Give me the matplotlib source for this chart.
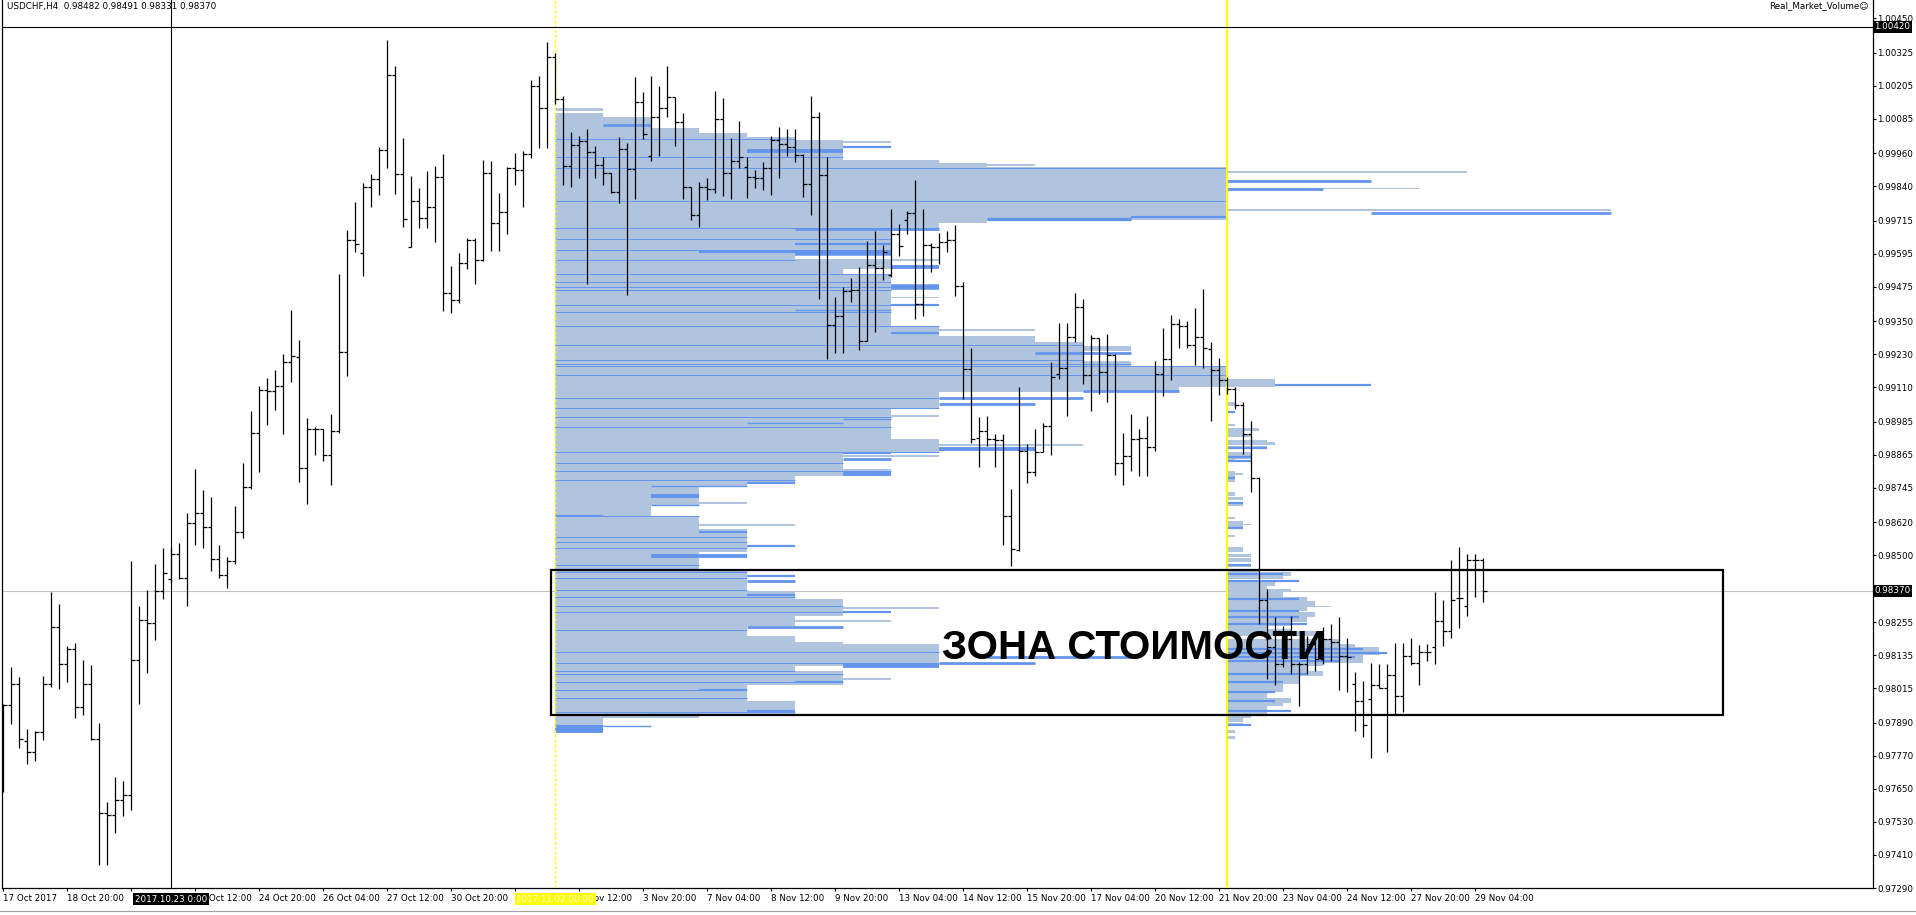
import matplotlib
matplotlib.use("Agg")
import matplotlib.pyplot as plt
import numpy as np

# ---------------- OHLC (USDCHF H4, bar index 0 = 17 Oct 2017 12:00) ----------------
opens = [0.97821,0.97956,0.98030,0.97825,0.97785,0.97857,0.98030,0.98239,0.98104,0.98159,
         0.97946,0.98030,0.97831,0.97562,0.97556,0.97608,0.97628,0.98119,0.98263,0.98253,
         0.98368,0.98412,0.98502,0.98418,0.98617,0.98651,0.98603,0.98484,0.98426,0.98478,
         0.98583,0.98746,0.98945,0.99101,0.99095,0.99113,0.99202,0.99221,0.98815,0.98958,
         0.98958,0.98865,0.98951,0.99239,0.99645,0.99596,0.99839,0.99867,0.99971,1.00244,
         0.99883,0.99620,0.99786,0.99725,0.99763,0.99874,0.99453,0.99425,0.99561,0.99645,
         0.99572,0.99887,0.99707,0.99746,0.99906,0.99899,0.99957,1.00203,1.00123,1.00311,
         1.00156,0.99912,0.99990,1.00003,0.99965,0.99918,0.99888,0.99819,0.99975,0.99903,
         1.00145,0.99951,1.00093,1.00124,1.00163,1.00073,0.99837,0.99734,0.99837,0.99831,
         1.00084,0.99890,0.99932,0.99909,0.99873,0.99869,0.99906,1.00009,0.99994,0.99982,
         0.99954,0.99849,1.00093,0.99882,0.99337,0.99367,0.99458,0.99462,0.99277,0.99555,
         0.99543,0.99519,0.99667,0.99718,0.99742,0.99413,0.99627,0.99621,0.99636,0.99646,
         0.99476,0.99176,0.98925,0.98950,0.98921,0.98918,0.98642,0.98519,0.98878,0.98801,
         0.98874,0.98968,0.99157,0.99179,0.99291,0.99403,0.99153,0.99287,0.99164,0.99226,
         0.98834,0.98860,0.98921,0.98925,0.98892,0.99157,0.99211,0.99338,0.99331,0.99262,
         0.99291,0.99247,0.99171,0.99135,0.99102,0.99044,0.98939,0.98780,0.98337,0.98167,
         0.98105,0.98196,0.98105,0.98105,0.98178,0.98123,0.98196,0.98185,0.98134,0.98033,
         0.97971,0.97978,0.98026,0.98015,0.98065,0.97986,0.98134,0.98109,0.98149,0.98167,
         0.98261,0.98225,0.98345,0.98316,0.98482,0.98482]
highs = [0.97960,0.98094,0.98056,0.97869,0.97861,0.98060,0.98366,0.98322,0.98169,0.98179,
         0.98119,0.98100,0.97891,0.97602,0.97692,0.97678,0.98478,0.98313,0.98374,0.98468,
         0.98525,0.98527,0.98543,0.98653,0.98812,0.98736,0.98711,0.98535,0.98492,0.98677,
         0.98836,0.99025,0.99114,0.99142,0.99174,0.99230,0.99389,0.99280,0.98999,0.98965,
         0.98958,0.99013,0.99522,0.99682,0.99783,0.99853,0.99883,0.99982,1.00371,1.00276,
         1.00017,0.99878,0.99832,0.99894,0.99915,0.99957,0.99552,0.99596,0.99652,0.99652,
         0.99936,0.99933,0.99815,0.99911,0.99961,0.99967,1.00228,1.00241,1.00366,1.00325,
         1.00168,1.00039,1.00023,1.00047,0.99987,0.99948,0.99888,1.00018,0.99999,1.00236,
         1.00182,1.00241,1.00205,1.00277,1.00163,1.00108,0.99837,0.99854,0.99869,1.00186,
         1.00160,1.00015,1.00078,0.99948,0.99900,0.99930,1.00023,1.00055,1.00047,1.00047,
         0.99957,1.00168,1.00109,0.99948,0.99437,0.99474,0.99506,0.99546,0.99640,0.99676,
         0.99627,0.99757,0.99704,0.99752,0.99863,0.99757,0.99634,0.99670,0.99679,0.99700,
         0.99494,0.99252,0.99001,0.99005,0.98939,0.98939,0.98740,0.99110,0.98903,0.98957,
         0.98979,0.99200,0.99345,0.99345,0.99451,0.99429,0.99298,0.99290,0.99305,0.99230,
         0.98943,0.99012,0.98957,0.99005,0.99204,0.99324,0.99371,0.99356,0.99349,0.99396,
         0.99465,0.99273,0.99215,0.99146,0.99110,0.99055,0.98986,0.98783,0.98377,0.98276,
         0.98243,0.98279,0.98110,0.98207,0.98196,0.98239,0.98250,0.98276,0.98200,0.98076,
         0.98044,0.98109,0.98105,0.98105,0.98181,0.98181,0.98200,0.98174,0.98178,0.98366,
         0.98337,0.98482,0.98530,0.98504,0.98504,0.98491]
lows = [0.97638,0.97885,0.97797,0.97741,0.97751,0.97829,0.98020,0.98014,0.98040,0.97907,
        0.97917,0.97829,0.97373,0.97373,0.97491,0.97550,0.97572,0.97960,0.98070,0.98193,
        0.98342,0.98398,0.98412,0.98313,0.98537,0.98527,0.98442,0.98416,0.98382,0.98468,
        0.98561,0.98740,0.98800,0.98971,0.99027,0.98941,0.99128,0.98766,0.98687,0.98865,
        0.98840,0.98756,0.98944,0.99152,0.99603,0.99513,0.99765,0.99807,0.99906,0.99811,
        0.99693,0.99620,0.99690,0.99690,0.99636,0.99388,0.99381,0.99416,0.99540,0.99485,
        0.99568,0.99606,0.99606,0.99668,0.99843,0.99763,0.99943,0.99978,0.99978,1.00140,
        0.99845,0.99839,0.99869,0.99485,0.99869,0.99843,0.99815,0.99779,0.99445,0.99793,
        1.00011,0.99932,0.99951,1.00093,0.99987,0.99793,0.99716,0.99692,0.99791,0.99817,
        0.99803,0.99793,0.99908,0.99797,0.99833,0.99825,0.99809,0.99869,0.99951,0.99930,
        0.99800,0.99735,0.99430,0.99214,0.99234,0.99234,0.99419,0.99246,0.99277,0.99309,
        0.99500,0.99512,0.99585,0.99667,0.99358,0.99370,0.99527,0.99558,0.99603,0.99440,
        0.99067,0.98907,0.98820,0.98896,0.98820,0.98537,0.98461,0.98515,0.98762,0.98787,
        0.98874,0.98863,0.99139,0.99005,0.99273,0.99121,0.99023,0.99084,0.99055,0.98791,
        0.98754,0.98805,0.98787,0.98787,0.98878,0.99077,0.99135,0.99251,0.99251,0.99189,
        0.99179,0.98986,0.99081,0.99084,0.99030,0.98867,0.98729,0.98250,0.98051,0.98026,
        0.98094,0.98069,0.97953,0.98069,0.98080,0.98105,0.98116,0.98011,0.98004,0.97862,
        0.97837,0.97761,0.98015,0.97786,0.97920,0.97931,0.98102,0.98026,0.98116,0.98105,
        0.98171,0.98200,0.98236,0.98279,0.98348,0.98331]
closes = [0.97956,0.98030,0.97831,0.97785,0.97857,0.98030,0.98239,0.98104,0.98159,0.97946,
          0.98030,0.97831,0.97562,0.97556,0.97608,0.97628,0.98119,0.98263,0.98253,0.98368,
          0.98434,0.98502,0.98418,0.98617,0.98651,0.98603,0.98484,0.98426,0.98478,0.98583,
          0.98746,0.98945,0.99101,0.99095,0.99113,0.99202,0.99222,0.98815,0.98958,0.98958,
          0.98865,0.98951,0.99239,0.99645,0.99631,0.99839,0.99867,0.99971,1.00244,0.99883,
          0.99721,0.99786,0.99725,0.99763,0.99874,0.99453,0.99425,0.99561,0.99645,0.99572,
          0.99887,0.99707,0.99746,0.99906,0.99899,0.99957,1.00203,1.00123,1.00311,1.00156,
          0.99912,0.99990,1.00003,0.99965,0.99918,0.99888,0.99819,0.99975,0.99903,1.00145,
          1.00030,1.00093,1.00124,1.00163,1.00073,0.99837,0.99734,0.99837,0.99831,1.00084,
          0.99890,0.99932,0.99948,0.99873,0.99869,0.99906,1.00009,0.99994,0.99982,0.99954,
          0.99849,1.00093,0.99882,0.99337,0.99367,0.99458,0.99462,0.99277,0.99555,0.99543,
          0.99600,0.99667,0.99624,0.99742,0.99413,0.99627,0.99621,0.99636,0.99646,0.99476,
          0.99176,0.98922,0.98950,0.98921,0.98918,0.98642,0.98522,0.98878,0.98801,0.98874,
          0.98968,0.99146,0.99179,0.99291,0.99403,0.99153,0.99287,0.99164,0.99226,0.98834,
          0.98860,0.98921,0.98925,0.98892,0.99157,0.99211,0.99338,0.99331,0.99262,0.99291,
          0.99251,0.99171,0.99135,0.99102,0.99044,0.98939,0.98780,0.98337,0.98167,0.98105,
          0.98196,0.98105,0.98105,0.98178,0.98123,0.98196,0.98185,0.98134,0.98131,0.97971,
          0.97884,0.98026,0.98015,0.98065,0.97986,0.98134,0.98109,0.98149,0.98149,0.98261,
          0.98225,0.98337,0.98345,0.98482,0.98482,0.98370]

# ---------------- volume profile 1 (from 2017.11.02 00:00) ----------------
p1_top = [1.00125,1.00107,1.00093,1.00053,1.00035,1.00020,1.00009,0.99937,0.99926,0.99911,
          0.99719,0.99705,0.99679,0.99589,0.99567,0.99538,0.99520,0.99331,0.99297,0.99273,
          0.99259,0.99241,0.99204,0.99186,0.99139,0.99110,0.99092,0.99030,0.98921,0.98874,
          0.98813,0.98787,0.98758,0.98748,0.98679,0.98642,0.98595,0.98512,0.98450,0.98370,
          0.98341,0.98280,0.98243,0.98207,0.98185,0.98178,0.98098,0.98077,0.98026,0.97968,
          0.97917,0.97906]
p1_bot = [1.00115,1.00093,1.00053,1.00035,1.00020,1.00009,0.99937,0.99926,0.99911,0.99719,
          0.99705,0.99679,0.99589,0.99567,0.99538,0.99520,0.99331,0.99297,0.99273,0.99259,
          0.99241,0.99204,0.99186,0.99139,0.99110,0.99092,0.99030,0.98921,0.98874,0.98813,
          0.98787,0.98758,0.98748,0.98679,0.98642,0.98595,0.98512,0.98450,0.98370,0.98341,
          0.98280,0.98243,0.98207,0.98185,0.98178,0.98098,0.98077,0.98026,0.97968,0.97917,
          0.97906,0.97852]
p1_vol = [1,1,2,3,4,5,6,8,9,14,9,8,7,5,7,6,7,8,10,11,12,11,12,14,15,13,8,7,8,6,
          7,5,4,3,2,3,4,3,4,5,6,5,4,5,6,8,5,6,4,5,3,1]
# single-level spikes of profile 1
p1s_price = [1.00002,0.99918,0.99893,0.99858,0.99832,0.99755,0.99572,0.99436,0.99318,0.99005,
             0.98899,0.98861,0.98690,0.98609,0.98308,0.98259,0.98051]
p1s_vol = [7,10,19,17,18,22,8,8,10,8,11,8,4,5,8,7,7]
# darker (cornflower) segments of profile 1: price, from, to, thickness
d1_price = [1.00062,0.99981,0.99968,0.99860,0.99830,0.99742,0.99722,0.99728,0.99685,0.99632,
            0.99600,0.99596,0.99545,0.99473,0.99407,0.99390,0.99306,0.99236,0.99117,0.99097,
            0.99072,0.99048,0.98994,0.98980,0.98887,0.98870,0.98849,0.98795,0.98762,0.98750,
            0.98715,0.98682,0.98646,0.98584,0.98534,0.98498,0.98422,0.98404,0.98356,0.98294,
            0.98238,0.98130,0.98108,0.98096,0.98037,0.98008,0.97935,0.97921,0.97868,0.97877]
d1_from = [1,6,4,14,14,17,9,12,5,5,3,5,7,7,7,5,7,10,15,11,8,8,6,4,8,6,6,6,4,2,
           2,2,0,3,4,2,4,4,4,6,4,9,8,6,5,3,4,2,0,1]
d1_to = [2,7,6,17,16,22,12,14,8,7,5,7,8,8,8,7,8,12,17,13,11,10,7,6,10,7,7,7,5,4,
         3,3,1,4,5,4,5,5,5,7,6,12,10,8,6,4,5,3,1,2]
d1_thk = [0.00010,0.00008,0.00014,0.00010,0.00010,0.00010,0.00012,0.00008,0.00010,0.00008,
          0.00008,0.00020,0.00014,0.00020,0.00008,0.00005,0.00008,0.00010,0.00008,0.00010,
          0.00010,0.00010,0.00005,0.00005,0.00014,0.00008,0.00010,0.00014,0.00008,0.00005,
          0.00014,0.00005,0.00004,0.00008,0.00008,0.00014,0.00008,0.00010,0.00008,0.00008,
          0.00010,0.00010,0.00010,0.00014,0.00008,0.00008,0.00008,0.00005,0.00028,0.00005]
# thin cornflower separator lines inside profile 1
p1_lines = [1.00013,0.99948,0.99908,0.99785,0.99690,0.99650,0.99607,0.99571,0.99520,0.99491,
            0.99473,0.99462,0.99407,0.99382,0.99331,0.99262,0.99208,0.99194,0.99186,0.99154,
            0.99070,0.99034,0.99001,0.98965,0.98874,0.98835,0.98806,0.98773,0.98642,0.98566,
            0.98548,0.98526,0.98465,0.98439,0.98418,0.98374,0.98349,0.98316,0.98294,0.98229,
            0.98149,0.98109,0.98080,0.98066,0.98040,0.98008,0.97982,0.97928,0.97881]

# ---------------- volume profile 2 (from 22 Nov 00:00) ----------------
p2_top = [0.99056,0.98976,0.98961,0.98950,0.98940,0.98918,0.98911,0.98896,0.98874,0.98860,
          0.98849,0.98806,0.98798,0.98791,0.98729,0.98711,0.98693,0.98639,0.98624,0.98613,
          0.98608,0.98573,0.98530,0.98505,0.98490,0.98468,0.98450,0.98439,0.98425,0.98403,
          0.98389,0.98378,0.98367,0.98349,0.98334,0.98316,0.98312,0.98294,0.98276,0.98258,
          0.98243,0.98233,0.98225,0.98196,0.98178,0.98167,0.98135,0.98106,0.98095,0.98077,
          0.98059,0.98033,0.98004,0.97979,0.97961,0.97950,0.97917,0.97906,0.97888,0.97863,
          0.97841]
p2_bot = [0.99041,0.98969,0.98950,0.98940,0.98929,0.98911,0.98900,0.98885,0.98860,0.98849,
          0.98838,0.98798,0.98791,0.98766,0.98715,0.98700,0.98679,0.98631,0.98613,0.98608,
          0.98595,0.98566,0.98512,0.98494,0.98476,0.98457,0.98439,0.98425,0.98414,0.98389,
          0.98378,0.98367,0.98349,0.98334,0.98316,0.98312,0.98298,0.98276,0.98258,0.98243,
          0.98233,0.98225,0.98204,0.98178,0.98167,0.98135,0.98106,0.98095,0.98077,0.98059,
          0.98033,0.98004,0.97979,0.97961,0.97950,0.97917,0.97906,0.97895,0.97877,0.97852,
          0.97830]
p2_vol = [1,1,4,2,3,5,6,5,3,3,1,1,2,1,1,2,2,1,2,3,2,1,2,3,3,3,4,8,7,6,
          5,8,7,10,11,13,10,11,10,8,5,8,12,14,16,19,17,12,10,12,9,7,5,8,7,5,3,2,2,1,1]
d2_price = [0.99021,0.98890,0.98855,0.98843,0.98780,0.98690,0.98600,0.98462,0.98432,0.98407,
            0.98340,0.98298,0.98276,0.98251,0.98160,0.98145,0.98130,0.98115,0.98066,0.98040,
            0.98004,0.97968,0.97935,0.97883]
d2_vol = [1,5,3,3,1,2,2,3,7,9,9,9,9,10,17,20,16,14,10,7,6,6,8,3]

# ---------------- axis labels ----------------
ytick_prices = [1.00450,1.00325,1.00205,1.00085,0.99960,0.99840,0.99715,0.99595,0.99475,0.99350,
                0.99230,0.99110,0.98985,0.98865,0.98745,0.98620,0.98500,0.98255,0.98135,0.98015,
                0.97890,0.97770,0.97650,0.97530,0.97410,0.97290]
xtick_idx = list(range(0, 185, 8))
# labels at 20 Oct 04:00 and 1 Nov 04:00 are fully hidden by the highlight labels
xtick_txt = ["17 Oct 2017","18 Oct 20:00","","23 Oct 12:00","24 Oct 20:00",
             "26 Oct 04:00","27 Oct 12:00","30 Oct 20:00","","2 Nov 12:00",
             "3 Nov 20:00","7 Nov 04:00","8 Nov 12:00","9 Nov 20:00","13 Nov 04:00",
             "14 Nov 12:00","15 Nov 20:00","17 Nov 04:00","20 Nov 12:00","21 Nov 20:00",
             "23 Nov 04:00","24 Nov 12:00","27 Nov 20:00","29 Nov 04:00"]

bid_price = 0.98370
cross_price = 1.00420
cross_bar = 21
vline1_bar = 69
vline2_bar = 153
box_x = (68.43, 214.96)
box_y = (0.97918, 0.98446)

LIGHT = '#B0C4DE'
DARK = '#6495ED'
FS = 6.3

W, H = 1916, 915
fig = plt.figure(figsize=(W / 100, H / 100), dpi=100)
fig.patch.set_facecolor('white')
ax = fig.add_axes([2 / W, 27 / H, 1871 / W, 888 / H])
ax.set_facecolor('white')
ax.set_xlim(-0.1625, 233.71)
ax.set_ylim(0.97297, 1.00517)
ax.spines['top'].set_visible(False)
for s in ['left', 'right', 'bottom']:
    ax.spines[s].set_linewidth(0.9)
    ax.spines[s].set_color('black')

px_price = (1.00517 - 0.97297) / 888.0


def draw_profile(x0, unit, tops, bots, vols, sp_price, sp_vol):
    c = [(t + b) / 2 for t, b in zip(tops, bots)]
    h = [t - b for t, b in zip(tops, bots)]
    w = [v * unit for v in vols]
    ax.barh(c, w, left=x0, height=h, color=LIGHT, linewidth=0, antialiased=False, zorder=2)
    if sp_price:
        ax.barh(sp_price, [v * unit for v in sp_vol], left=x0, height=0.00007,
                color=LIGHT, linewidth=0, antialiased=False, zorder=2)


def width_at(p, tops, bots, vols):
    best = 0
    for t, b, v in zip(tops, bots, vols):
        if b <= p <= t:
            best = max(best, v)
    return best


# profile 1
U1 = 6.0
draw_profile(vline1_bar, U1, p1_top, p1_bot, p1_vol, p1s_price, p1s_vol)
for p in p1_lines:
    wv = width_at(p, p1_top, p1_bot, p1_vol)
    ax.hlines(p, vline1_bar, vline1_bar + wv * U1, color=DARK, lw=0.7, zorder=2.4)
for p, f, t, k in zip(d1_price, d1_from, d1_to, d1_thk):
    lw = max(0.7, k / px_price * 0.72)
    ax.hlines(p, vline1_bar + f * U1, vline1_bar + t * U1, color=DARK, lw=lw, zorder=2.5)

# profile 2
U2 = 1.0
draw_profile(vline2_bar, U2, p2_top, p2_bot, p2_vol, [], [])
for p, v in zip(d2_price, d2_vol):
    ax.hlines(p, vline2_bar, vline2_bar + v * U2, color=DARK, lw=1.6, zorder=2.5)

# reference lines
ax.axhline(bid_price, color='#C0C0C0', lw=0.8, zorder=1)
ax.axvline(vline1_bar, color='#FFFF00', lw=1.0, ls=(0, (2, 1.5)), zorder=3)
ax.axvline(vline2_bar, color='#FFFF00', lw=1.6, zorder=3)
ax.axvline(cross_bar, color='black', lw=0.8, zorder=3)
ax.axhline(cross_price, color='black', lw=0.8, zorder=3)

# OHLC bars
idx = np.arange(len(opens))
ax.vlines(idx, lows, highs, color='black', lw=0.9, zorder=4)
ax.hlines(opens, idx - 0.42, idx, color='black', lw=0.9, zorder=4)
ax.hlines(closes, idx, idx + 0.42, color='black', lw=0.9, zorder=4)

# value-zone box and caption
ax.add_patch(plt.Rectangle((box_x[0], box_y[0]), box_x[1] - box_x[0], box_y[1] - box_y[0],
                           fill=False, edgecolor='black', lw=1.6, zorder=5))
ax.text(117.3, 0.98124, "ЗОНА СТОИМОСТИ", fontsize=29, fontweight='bold',
        family='Liberation Sans', ha='left', va='baseline', color='black', zorder=6)

# axes ticks
ax.yaxis.tick_right()
ax.set_yticks(ytick_prices)
ax.set_yticklabels([f"{p:.5f}" for p in ytick_prices])
ax.tick_params(axis='y', direction='out', length=2.2, width=0.8, pad=1, labelsize=FS,
               colors='black')
ax.set_xticks(xtick_idx)
ax.set_xticklabels(xtick_txt, ha='left')
ax.tick_params(axis='x', direction='out', length=2.2, width=0.8, pad=2, labelsize=FS,
               colors='black')

ytr = ax.get_yaxis_transform()
ax.text(1.0008, cross_price, "1.00420", transform=ytr, fontsize=FS, color='white',
        ha='left', va='center', zorder=10, clip_on=False,
        bbox=dict(facecolor='black', edgecolor='none', pad=1.2))
ax.text(1.0008, bid_price, "0.98370", transform=ytr, fontsize=FS, color='white',
        ha='left', va='center', zorder=10, clip_on=False,
        bbox=dict(facecolor='black', edgecolor='none', pad=1.2))

xtr = ax.get_xaxis_transform()
ax.text(cross_bar, -0.0125, "2017.10.23 0:00", transform=xtr, fontsize=FS, color='white',
        ha='center', va='center', zorder=10, clip_on=False,
        bbox=dict(facecolor='black', edgecolor='none', pad=1.3))
ax.text(vline1_bar, -0.0125, "2017.11.02 00:00", transform=xtr, fontsize=FS, color='#FFFFE8',
        ha='center', va='center', zorder=10, clip_on=False,
        bbox=dict(facecolor='#FFFF00', edgecolor='none', pad=1.3))

# header texts
fig.text(7 / W, 1 - 6 / H, "USDCHF,H4  0.98482 0.98491 0.98331 0.98370", fontsize=FS,
         ha='left', va='center', color='black')
fig.text(1868 / W, 1 - 6 / H, "Real_Market_Volume\u263A", fontsize=FS,
         ha='right', va='center', color='black')

# bottom tab strip line
fig.add_artist(plt.Line2D([0, 1], [1 - 911 / H, 1 - 911 / H], transform=fig.transFigure,
                          color='#A0A0A0', lw=0.8))

fig.savefig("out.png", dpi=100, facecolor='white')
